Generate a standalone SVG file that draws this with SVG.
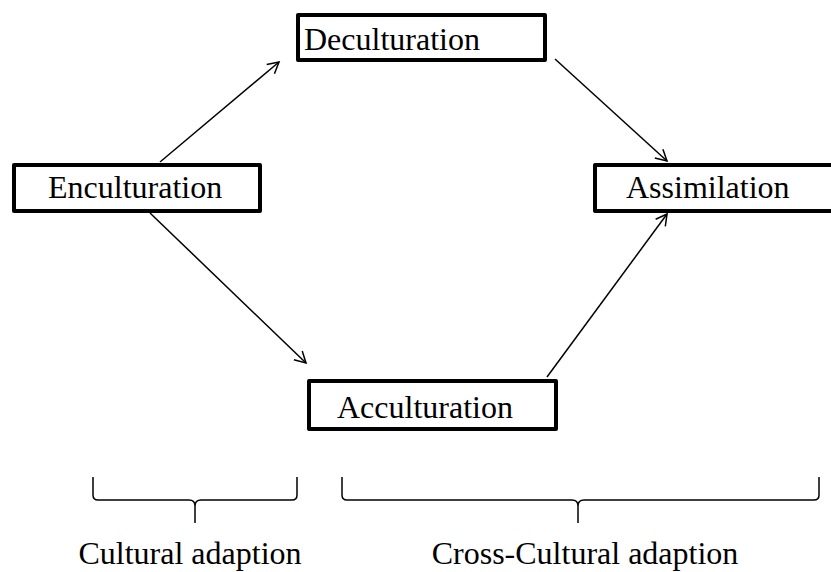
<svg xmlns="http://www.w3.org/2000/svg" width="831" height="572" viewBox="0 0 831 572">
<defs>
<style>
.box{fill:#fff;stroke:#000;stroke-width:4;stroke-linejoin:round}
.lbl{font-family:"Liberation Serif","Times New Roman",serif;font-size:32px;fill:#000}
.con{stroke:#000;stroke-width:1.5;fill:none}
.brace{stroke:#000;stroke-width:1.5;fill:none}
</style>
<marker id="arr" viewBox="0 0 14 14" refX="12" refY="7" markerWidth="14" markerHeight="14" markerUnits="userSpaceOnUse" orient="auto">
<path d="M1,1 L12,7 L1,13" fill="none" stroke="#000" stroke-width="1.5"/>
</marker>
</defs>
<rect width="831" height="572" fill="#fff"/>
<g id="connectors">
<line class="con" x1="160" y1="162" x2="279" y2="62" marker-end="url(#arr)"/>
<line class="con" x1="555" y1="59" x2="667" y2="161" marker-end="url(#arr)"/>
<line class="con" x1="150" y1="213" x2="306" y2="363" marker-end="url(#arr)"/>
<line class="con" x1="547" y1="377" x2="667" y2="214" marker-end="url(#arr)"/>
</g>
<g id="deculturation">
<rect class="box" x="298" y="15" width="247" height="45"/>
<text class="lbl" x="304" y="50">Deculturation</text>
</g>
<g id="enculturation">
<rect class="box" x="14" y="165" width="246" height="46"/>
<text class="lbl" x="48" y="198">Enculturation</text>
</g>
<g id="assimilation">
<rect class="box" x="595" y="165" width="245" height="46"/>
<text class="lbl" x="626" y="198">Assimilation</text>
</g>
<g id="acculturation">
<rect class="box" x="309" y="381" width="247" height="48"/>
<text class="lbl" x="337" y="418">Acculturation</text>
</g>
<g id="brace-cultural">
<path class="brace" d="M93,477 L93,495 Q93,500 98,500 L189,500 Q195,500 195,506 L195,523 M195,506 Q195,500 201,500 L292,500 Q297,500 297,495 L297,477"/>
<text class="lbl" x="190" y="564" text-anchor="middle">Cultural adaption</text>
</g>
<g id="brace-crosscultural">
<path class="brace" d="M342,477 L342,495 Q342,500 347,500 L572,500 Q578,500 578,506 L578,523 M578,506 Q578,500 584,500 L814,500 Q819,500 819,495 L819,477"/>
<text class="lbl" x="585" y="564" text-anchor="middle">Cross-Cultural adaption</text>
</g>
</svg>
